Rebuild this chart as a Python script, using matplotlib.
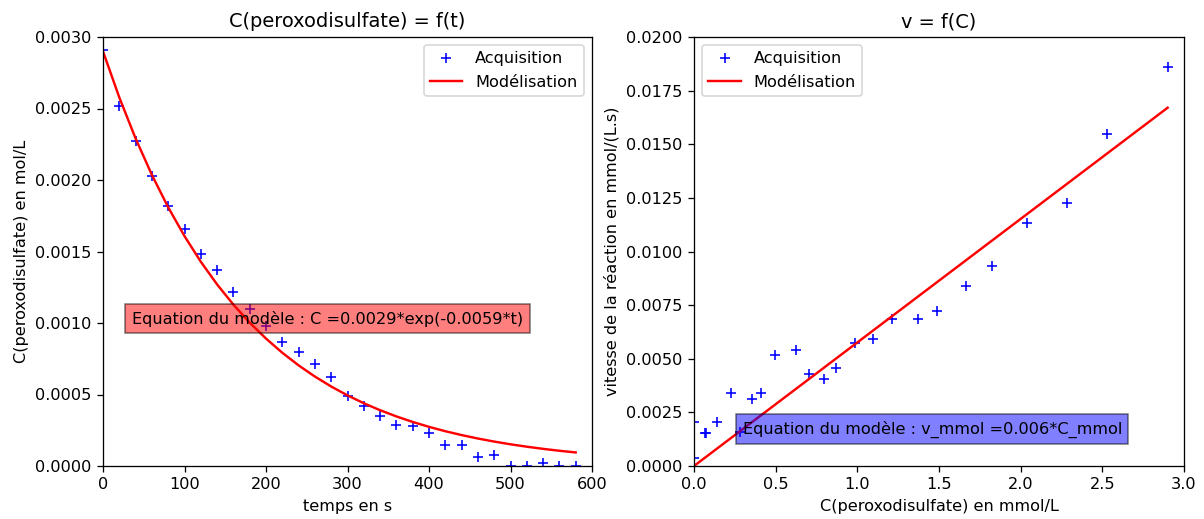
import numpy as np
import matplotlib
matplotlib.use("Agg")
import matplotlib.pyplot as plt

# Left chart data: concentration vs time
t_s = [0, 20, 40, 60, 80, 100, 120, 140, 160, 180, 200, 220, 240, 260, 280,
       300, 320, 340, 360, 380, 400, 420, 440, 460, 480, 500, 520, 540, 560, 580]
c_mol = [0.00291, 0.00252, 0.00227, 0.00203, 0.00182, 0.00166, 0.00148, 0.00137,
         0.00122, 0.00110, 0.00098, 0.00087, 0.00080, 0.00071, 0.00062, 0.00049,
         0.00042, 0.00035, 0.00029, 0.00028, 0.00023, 0.00015, 0.00015, 0.00006,
         0.00008, 0.0, 0.0, 0.00002, 0.0, 0.0]
c0_model = 0.0029
k_model = 0.0059

# Right chart data: rate vs concentration
c_mmol = [0.0, 0.0, 0.067, 0.073, 0.14, 0.227, 0.28, 0.355, 0.41, 0.496, 0.625,
          0.704, 0.796, 0.87, 0.986, 1.096, 1.212, 1.37, 1.488, 1.666, 1.825,
          2.04, 2.284, 2.529, 2.90]
v_mmol = [0.00037, 0.00205, 0.00154, 0.00154, 0.00205, 0.0034, 0.00158, 0.00312,
          0.0034, 0.00517, 0.0054, 0.0043, 0.00406, 0.00457, 0.00573, 0.00592,
          0.00685, 0.00685, 0.00723, 0.0084, 0.00932, 0.01133, 0.01226, 0.01548,
          0.0186]
slope_model = 0.00576

DPI = 116
fig = plt.figure(figsize=(1204/DPI, 519/DPI), dpi=DPI)
ax1 = fig.add_axes([103/1204, 53/519, 489/1204, 429/519])
ax2 = fig.add_axes([694/1204, 53/519, 490/1204, 429/519])

tt = np.array(t_s, dtype=float)
ax1.plot(t_s, c_mol, '+', color='blue', label='Acquisition')
ax1.plot(tt, c0_model * np.exp(-k_model * tt), '-', color='red', label='Modélisation')
ax1.set_xlim(0, 600)
ax1.set_ylim(0, 0.003)
ax1.set_yticks(np.arange(0, 0.00301, 0.0005))
ax1.yaxis.set_major_formatter(matplotlib.ticker.FormatStrFormatter('%.4f'))
ax1.set_title('C(peroxodisulfate) = f(t)')
ax1.set_xlabel('temps en s')
ax1.set_ylabel('C(peroxodisulfate) en mol/L')
ax1.legend(loc='upper right')
ax1.text(35.5, 0.00103, 'Equation du modèle : C =0.0029*exp(-0.0059*t)',
         va='center', bbox=dict(facecolor='red', alpha=0.5))

cc = np.array([min(c_mmol), max(c_mmol)])
ax2.plot(c_mmol, v_mmol, '+', color='blue', label='Acquisition')
ax2.plot(cc, slope_model * cc, '-', color='red', label='Modélisation')
ax2.set_xlim(0, 3.0)
ax2.set_ylim(0, 0.02)
ax2.set_yticks(np.arange(0, 0.02001, 0.0025))
ax2.yaxis.set_major_formatter(matplotlib.ticker.FormatStrFormatter('%.4f'))
ax2.set_title('v = f(C)')
ax2.set_xlabel('C(peroxodisulfate) en mmol/L')
ax2.set_ylabel('vitesse de la réaction en mmol/(L.s)')
ax2.legend(loc='upper left')
ax2.text(0.297, 0.001725, 'Equation du modèle : v_mmol =0.006*C_mmol',
         va='center', bbox=dict(facecolor='blue', alpha=0.5))

fig.savefig('out.png', dpi=DPI)
